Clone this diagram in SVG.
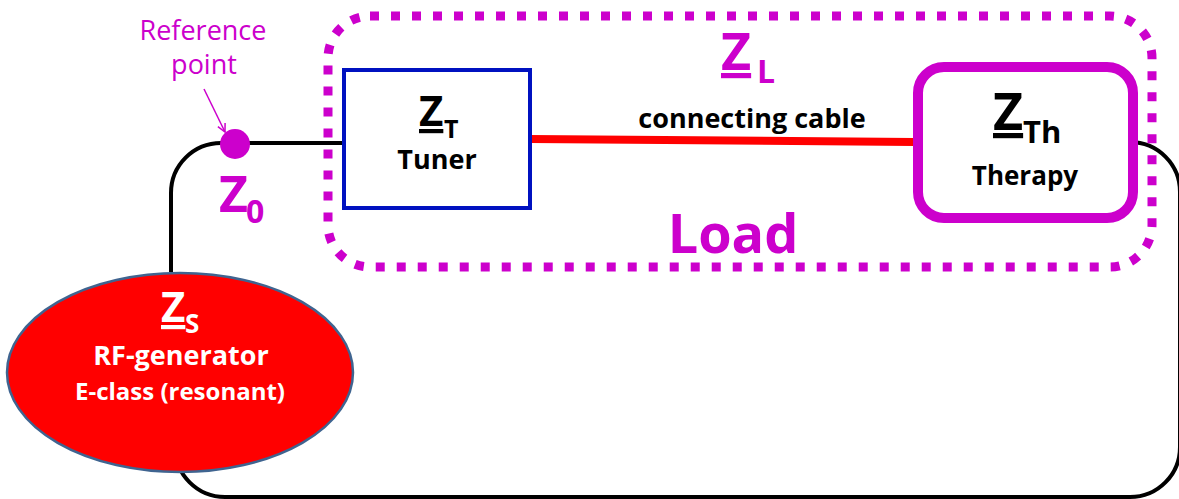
<svg xmlns="http://www.w3.org/2000/svg" width="1179" height="499" viewBox="0 0 1179 499">
<defs>
<style>
text{font-family:"Open Sans","Noto Sans","Liberation Sans",sans-serif;font-weight:bold}
.mag{fill:#CC00CC}
.blk{fill:#000}
.wht{fill:#fff}
.wire{fill:none;stroke:#000;stroke-width:4}
.u{text-decoration:underline;text-decoration-thickness:3px;text-underline-offset:5px}
</style>
<marker id="openArrow" viewBox="0 0 10 10" refX="9" refY="5" markerWidth="10" markerHeight="10" markerUnits="userSpaceOnUse" orient="auto">
<path d="M1,1 L9,5 L1,9" fill="none" stroke="#CC00CC" stroke-width="1.5"/>
</marker>
</defs>
<rect width="1179" height="499" fill="#fff"/>

<g id="connectors">
<path class="wire" d="M171,272 V193 A50,50 0 0 1 221,143 H346"/>
<path class="wire" d="M1136,142 H1130 A50,50 0 0 1 1180,192 V447 A50,50 0 0 1 1130,497 H225 A50,50 0 0 1 175,447"/>
<line x1="530" y1="139" x2="914" y2="142" stroke="#FF0000" stroke-width="8"/>
<line x1="204" y1="89" x2="225" y2="132" stroke="#CC00CC" stroke-width="1.5" marker-end="url(#openArrow)"/>
</g>

<g id="load">
<rect x="328" y="16" width="824" height="251" rx="42" fill="none" stroke="#CC00CC" stroke-width="9" stroke-dasharray="9 12"/>
<text class="mag" font-size="52"><tspan class="u" x="721" y="70">Z</tspan><tspan x="757" y="83" font-size="32">L</tspan></text>
<text class="mag" x="733" y="253" font-size="54" text-anchor="middle">Load</text>
</g>

<g id="cable-label">
<text class="blk" x="752" y="128" font-size="27" text-anchor="middle">connecting cable</text>
</g>

<g id="reference-point">
<circle cx="235" cy="144" r="15" fill="#CC00CC"/>
<text class="mag" x="203" y="40" font-size="27" text-anchor="middle" style="font-weight:normal">Reference</text>
<text class="mag" x="204" y="74" font-size="27" text-anchor="middle" style="font-weight:normal">point</text>
<text class="mag" font-size="50"><tspan x="219" y="212">Z</tspan><tspan x="246" y="223" font-size="32">0</tspan></text>
</g>

<g id="tuner">
<rect x="344" y="70" width="186" height="138" fill="#fff" stroke="#0011C0" stroke-width="4"/>
<text class="blk" font-size="42"><tspan class="u" x="419" y="126">Z</tspan><tspan x="444" y="138" font-size="25">T</tspan></text>
<text class="blk" x="437" y="169" font-size="27" text-anchor="middle">Tuner</text>
</g>

<g id="therapy">
<rect x="918" y="67" width="215" height="151" rx="26" fill="#fff" stroke="#CC00CC" stroke-width="10"/>
<text class="blk" font-size="52"><tspan class="u" x="993" y="130">Z</tspan><tspan x="1023" y="143" font-size="31">Th</tspan></text>
<text class="blk" x="1025" y="185" font-size="26" text-anchor="middle">Therapy</text>
</g>

<g id="generator">
<ellipse cx="180" cy="372.5" rx="173" ry="99.5" fill="#FF0000" stroke="#3F6490" stroke-width="2.5"/>
<text class="wht" font-size="42"><tspan class="u" x="161" y="322">Z</tspan><tspan x="185" y="333" font-size="26">S</tspan></text>
<text class="wht" x="181" y="365" font-size="27" text-anchor="middle">RF-generator</text>
<text class="wht" x="180" y="400" font-size="24" text-anchor="middle">E-class (resonant)</text>
</g>
</svg>
